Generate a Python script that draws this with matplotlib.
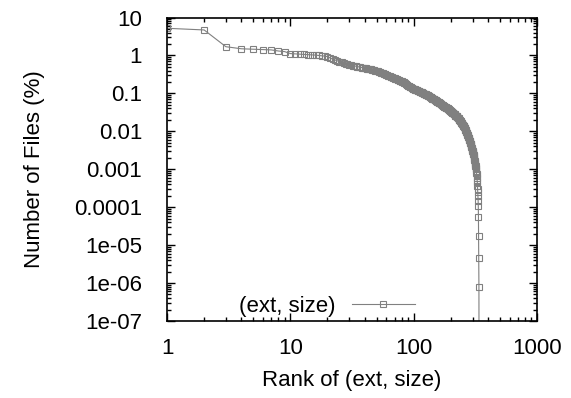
import numpy as np
import matplotlib
matplotlib.use('Agg')
import matplotlib.pyplot as plt
from matplotlib.ticker import FixedLocator, FixedFormatter, LogLocator, NullFormatter

plt.rcParams['font.family'] = ['Liberation Sans', 'DejaVu Sans']

# percentage of files for each (ext, size) rank
pct = [
    5.2, 4.7, 1.7, 1.5, 1.46, 1.42, 1.4, 1.31, 1.26, 1.12,
    1.1, 1.08, 1.06, 1.05, 1.04, 1.02, 1.0, 0.98, 0.96, 0.93,
    0.86, 0.8, 0.76, 0.72, 0.69, 0.66, 0.63, 0.61, 0.58, 0.56,
    0.55, 0.54, 0.53, 0.52, 0.51, 0.5, 0.49, 0.48, 0.47, 0.46,
    0.455, 0.45, 0.44, 0.435, 0.43, 0.42, 0.41, 0.405, 0.4, 0.39,
    0.38, 0.37, 0.36, 0.355, 0.35, 0.34, 0.33, 0.325, 0.32, 0.31,
    0.3, 0.295, 0.29, 0.28, 0.275, 0.27, 0.265, 0.26, 0.255, 0.25,
    0.245, 0.24, 0.235, 0.23, 0.225, 0.22, 0.218, 0.215, 0.212, 0.21,
    0.205, 0.2, 0.195, 0.19, 0.185, 0.18, 0.175, 0.17, 0.165, 0.16,
    0.155, 0.152, 0.149, 0.146, 0.143, 0.14, 0.137, 0.134, 0.132, 0.13,
    0.128, 0.127, 0.125, 0.124, 0.122, 0.121, 0.12, 0.118, 0.116, 0.115,
    0.113, 0.112, 0.11, 0.109, 0.107, 0.106, 0.104, 0.103, 0.101, 0.1,
    0.099, 0.097, 0.096, 0.095, 0.094, 0.093, 0.092, 0.091, 0.089, 0.088,
    0.087, 0.086, 0.085, 0.083, 0.082, 0.081, 0.08, 0.078, 0.077, 0.075,
    0.074, 0.073, 0.072, 0.071, 0.07, 0.07, 0.069, 0.068, 0.067, 0.066,
    0.065, 0.064, 0.063, 0.062, 0.061, 0.06, 0.059, 0.058, 0.058, 0.057,
    0.056, 0.056, 0.055, 0.055, 0.054, 0.053, 0.052, 0.051, 0.05, 0.049,
    0.049, 0.048, 0.047, 0.047, 0.046, 0.046, 0.045, 0.045, 0.044, 0.044,
    0.043, 0.043, 0.042, 0.042, 0.041, 0.041, 0.04, 0.04, 0.039, 0.039,
    0.038, 0.038, 0.037, 0.037, 0.036, 0.036, 0.035, 0.035, 0.034, 0.034,
    0.034, 0.033, 0.033, 0.032, 0.032, 0.031, 0.031, 0.031, 0.030, 0.030,
    0.029, 0.029, 0.029, 0.028, 0.028, 0.027, 0.027, 0.026, 0.026, 0.026,
    0.025, 0.025, 0.025, 0.025, 0.024, 0.024, 0.023, 0.023, 0.022, 0.022,
    0.022, 0.021, 0.021, 0.020, 0.020, 0.020, 0.019, 0.019, 0.019, 0.019,
    0.018, 0.018, 0.018, 0.017, 0.017, 0.016, 0.016, 0.016, 0.015, 0.015,
    0.015, 0.015, 0.014, 0.014, 0.014, 0.013, 0.013, 0.013, 0.012, 0.012,
    0.012, 0.011, 0.011, 0.011, 0.010, 0.010, 0.0098, 0.0095, 0.0092, 0.009,
    0.0087, 0.0084, 0.0082, 0.0079, 0.0077, 0.0075, 0.0072, 0.007, 0.0068, 0.0065,
    0.0063, 0.006, 0.0058, 0.0056, 0.0054, 0.0052, 0.005, 0.0048, 0.0047, 0.0045,
    0.0043, 0.0042, 0.004, 0.0038, 0.0037, 0.0035, 0.0034, 0.0033, 0.0031, 0.003,
    0.0029, 0.0028, 0.0027, 0.0026, 0.0025, 0.0024, 0.0023, 0.0022, 0.002, 0.0019,
    0.0018, 0.0017, 0.0016, 0.0015, 0.0014, 0.0013, 0.0012, 0.0012, 0.0011, 0.00105,
    0.001, 0.0009, 0.0008, 0.00075, 0.0007, 0.0006, 0.0005, 0.00045, 0.00037, 0.0003,
    0.00025, 0.0002, 0.00015, 0.000105, 5.4e-5, 1.7e-5, 4.5e-6, 8e-7, 1e-9,
]
rank = np.arange(1, len(pct) + 1)

y_ticks = [10, 1, 0.1, 0.01, 0.001, 0.0001, 1e-5, 1e-6, 1e-7]
y_labels = ['10', '1', '0.1', '0.01', '0.001', '0.0001', '1e-05', '1e-06', '1e-07']
x_ticks = [1, 10, 100, 1000]
x_labels = ['1', '10', '100', '1000']

fs = 16

fig = plt.figure(figsize=(5.71, 3.98), dpi=100)
ax = fig.add_axes([0.2925, 0.1935, 0.648, 0.7625])

gray = '#808080'
ax.plot(rank, pct, color=gray, lw=0.8, marker='s', ms=4.5, mfc='none',
        mec=gray, mew=0.8, label='(ext, size)')

ax.set_xscale('log')
ax.set_yscale('log')
ax.set_xlim(1, 1000)
ax.set_ylim(1e-7, 10)

ax.yaxis.set_major_locator(FixedLocator(y_ticks))
ax.yaxis.set_major_formatter(FixedFormatter(y_labels))
ax.xaxis.set_major_locator(FixedLocator(x_ticks))
ax.xaxis.set_major_formatter(FixedFormatter(x_labels))
ax.xaxis.set_minor_locator(LogLocator(base=10, subs=np.arange(2, 10)))
ax.yaxis.set_minor_locator(LogLocator(base=10, subs=np.arange(2, 10), numticks=20))
ax.xaxis.set_minor_formatter(NullFormatter())
ax.yaxis.set_minor_formatter(NullFormatter())

ax.tick_params(which='both', direction='in', top=True, right=True, labelsize=fs, width=1)
ax.tick_params(which='major', length=6)
ax.tick_params(axis='y', which='major', pad=18)
ax.tick_params(axis='x', which='major', pad=12)
ax.tick_params(which='minor', length=3)
for s in ax.spines.values():
    s.set_linewidth(1.2)

ax.set_xlabel('Rank of (ext, size)', fontsize=fs)
ax.xaxis.set_label_coords(0.5, -0.16)
ax.set_ylabel('Number of Files (%)', fontsize=fs)
ax.yaxis.set_label_coords(-0.33, 0.5)

ax.legend(loc='center', bbox_to_anchor=(0.432, 0.047), frameon=False, fontsize=fs,
          markerfirst=False, numpoints=1, handlelength=2.8, handletextpad=0.75)

fig.savefig('out.png', dpi=100)
